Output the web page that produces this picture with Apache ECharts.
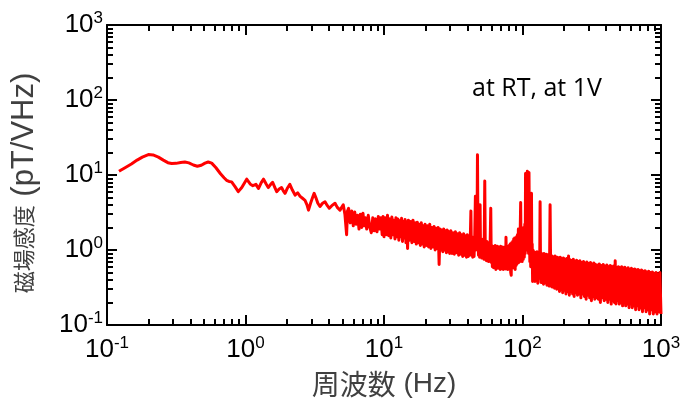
<!DOCTYPE html>
<html><head><meta charset="utf-8">
<script src="https://cdn.jsdelivr.net/npm/echarts@6/dist/echarts.min.js"></script>
<style>html,body{margin:0;padding:0;background:#fff}#c{width:688px;height:403px}</style>
</head><body><div id="c"></div>
<script>
// ---- data (frequency in Hz, sensitivity in pT/√Hz) ----
const freqLow = [0.122,0.135,0.15,0.165,0.18,0.199,0.215,0.235,0.255,0.275,0.293,0.315,0.34,0.365,0.39,0.42,0.449,0.48,0.51,0.538,0.57,0.61,0.66,0.7,0.73,0.76,0.794,0.84,0.887,0.94,1.02,1.08,1.13,1.19,1.24,1.3,1.35,1.41,1.46,1.52,1.57,1.63,1.68,1.75,1.82,1.87,1.93,2.0,2.09,2.18,2.28,2.38,2.48,2.58,2.69,2.78,2.85,2.95,3.05,3.13,3.22,3.33,3.45,3.6,3.75,3.9,4.03,4.2,4.43,4.6,4.81,4.95,5.08,5.22,5.37,5.45];
const sensLow = [11.2,12.5,14.0,15.8,17.3,18.7,18.5,17.3,15.8,14.6,14.2,14.3,14.7,14.9,14.5,13.6,13.1,13.5,14.4,14.9,14.4,12.6,10.4,9.2,8.5,8.2,8.1,7.0,6.0,6.8,8.8,7.6,7.2,7.5,6.6,7.9,8.8,7.6,6.8,7.5,8.0,6.8,6.0,6.5,6.8,6.2,5.7,6.6,7.5,6.3,5.4,5.8,5.2,4.9,4.6,4.0,3.4,4.2,5.0,5.7,5.0,4.2,3.8,4.2,4.4,3.9,3.6,3.9,4.2,3.7,3.4,3.7,4.0,3.0,1.6,3.3];

const freq5to10 = [5.55,5.7,5.85,6.0,6.15,6.3,6.45,6.6,6.75,6.9,7.05,7.2,7.35,7.5,7.7,7.9,8.1,8.3,8.5,8.7,8.9,9.1,9.3,9.5,9.7,9.85];
const sens5to10 = [3.6,2.3,3.3,2.1,3.2,2.2,2.9,1.9,3.0,2.0,3.1,2.1,2.7,1.9,2.9,2.0,1.7,2.7,1.8,2.6,1.75,2.8,1.9,2.7,1.6,2.8];

const freq10to40 = [10.0,10.2,10.4,10.6,10.8,11.0,11.2,11.4,11.6,11.8,12.0,12.2,12.4,12.6,12.8,13.0,13.2,13.4,13.6,13.8,14.0,14.2,14.4,14.6,14.8,15.0,
  15.3,15.6,15.9,16.2,16.5,16.8,17.1,17.4,17.7,18.0,18.3,18.6,18.9,19.2,19.5,19.8,
  20.2,20.6,21.0,21.4,21.8,22.2,22.6,23.0,23.4,23.8,24.2,24.6,25.0,25.4,25.8,26.2,26.6,27.0,27.4,27.8,28.2,28.6,29.0,29.4,29.8,
  30.4,31.0,31.6,32.2,32.8,33.4,34.0,34.6,35.2,35.8,36.4,37.0,37.6,38.2,38.8,39.4,40.0,40.6];
const sens10to40 = [1.5,2.7,1.6,2.9,1.55,2.6,1.45,2.75,1.6,2.5,1.4,2.7,1.5,2.6,1.35,2.45,1.5,2.65,1.3,2.4,1.45,2.55,1.25,2.35,1.05,2.5,
  1.35,2.4,1.25,2.5,1.3,2.3,1.2,2.35,1.25,2.2,1.15,2.3,1.2,2.1,1.1,2.2,
  1.15,2.1,1.1,2.2,1.05,2.0,1.1,2.05,1.0,1.95,1.05,2.0,0.64,1.9,1.0,1.85,0.95,1.9,1.0,1.8,0.92,1.85,0.95,1.75,0.9,
  1.8,0.9,1.7,0.88,1.75,0.92,1.65,0.85,1.7,0.88,1.6,0.82,1.65,0.85,1.55,0.8,1.6,0.82];

const freq40to60 = [41.0,41.5,42.0,42.4,42.8,43.2,43.7,44.2,44.7,45.2,45.7,46.1,46.5,46.9,47.3,47.7,48.1,48.6,49.0,49.4,49.8,50.3,50.8,51.3,51.8,52.3,52.8,53.4,53.9,54.4,54.9,55.4,55.9,56.4,56.9,57.4,57.9,58.4,59.0,59.5,60.0];
const sens40to60 = [1.5,0.85,1.45,3.3,0.85,1.5,0.8,1.45,0.82,1.5,5.2,1.0,4.2,1.2,18.6,1.8,0.85,1.4,0.8,4.0,0.85,1.4,0.78,1.35,0.8,1.4,0.75,8.3,0.8,1.3,0.72,1.3,0.75,1.25,0.7,1.2,0.72,1.2,3.6,0.68,1.15];

const freq60to120 = [60.6,61.2,61.8,62.4,63.0,63.6,64.2,64.8,65.4,66.0,66.6,67.2,67.8,68.4,69.0,69.6,70.2,70.8,71.4,72.0,72.7,73.4,74.1,74.8,75.5,76.0,76.6,77.3,78.0,78.7,79.4,80.1,80.8,81.5,82.2,82.9,83.6,84.3,85.0,85.7,86.4,87.1,87.8,88.5,89.2,89.9,90.6,91.3,92.0,92.7,93.4,94.1,94.8,95.5,96.2,
  97.0,97.8,98.6,99.4,100.3,101.2,102.1,103.0,103.9,104.6,105.2,106.0,106.8,107.6,108.3,109.0,109.8,110.6,111.4,112.2,113.0,113.8,114.6,115.4,116.1,116.8,117.5,118.3,119.1,120.0];
const sens60to120 = [0.6,1.12,0.58,1.1,0.62,1.15,0.55,1.08,0.6,1.12,0.57,1.05,0.6,1.1,0.55,1.12,0.58,1.08,0.56,1.1,0.55,1.05,0.6,1.1,0.56,1.48,0.6,1.08,0.55,1.12,0.58,1.15,0.55,1.2,0.5,0.46,1.25,0.6,1.3,0.58,1.4,0.6,1.45,0.55,1.35,0.62,1.5,0.65,1.6,0.7,1.9,0.68,1.6,0.7,1.7,
  4.3,0.75,1.6,0.7,1.8,0.75,2.0,0.8,2.2,0.9,10.5,1.1,2.0,1.0,11.2,11.6,2.2,0.9,10.8,1.5,0.7,1.8,0.6,1.4,5.7,0.7,1.2,0.38,1.0,0.4];

const freq120to340 = [121.5,123.0,124.5,126.0,127.5,129.0,130.5,132.0,133.2,134.0,134.8,136.2,137.6,139.0,140.4,141.8,143.2,144.6,146.0,147.4,148.8,150.2,151.6,153.0,154.4,155.8,157.0,158.2,159.4,160.8,162.4,164.0,165.6,167.2,168.8,170.4,172.0,173.6,175.2,176.8,178.4,180.0,
  182.5,185,187.5,190,192.5,195,197.5,200,203,206,209,212,215,218,221,224,227,230,233,236,239,242.5,246,249.5,253,256.5,260,264,268,272,276,280,284,288,292,296.5,301,305.5,310,314.5,319,323.5,328,332.5,337,341.5];
const sens120to340 = [0.95,0.38,0.92,0.4,0.95,0.36,0.9,0.42,0.88,4.4,0.8,0.37,0.9,0.4,0.88,0.35,0.9,0.38,0.86,0.36,0.88,0.34,0.85,0.37,0.87,0.33,0.82,4.0,0.8,0.33,0.84,0.32,0.82,0.35,0.8,0.31,0.83,0.33,0.78,0.3,0.8,0.32,
  0.78,0.28,0.8,0.3,0.76,0.27,0.78,0.29,0.75,0.26,0.77,0.28,0.83,0.25,0.74,0.28,0.72,0.26,0.75,0.24,0.71,0.27,0.73,0.25,0.7,0.26,0.72,0.23,0.68,0.26,0.7,0.24,0.67,0.22,0.69,0.25,0.66,0.23,0.68,0.21,0.65,0.24,0.67,0.22,0.64,0.23];

const freq340to1000 = [347,353,359,365,371,377,383,389,395,401,407,413,419,425,431,437,443,449,455,461,467,473,479,486,493,500,507,514,521,528,535,542,549,556,564,572,580,588,596,604,612,620,629,638,647,656,665,674,684,694,704,714,724,735,746,757,768,780,792,804,816,828,841,854,867,880,894,908,922,936,951,966,982,1000];
const sens340to1000 = [0.63,0.22,0.65,0.2,0.62,0.23,0.64,0.21,0.61,0.22,0.63,0.2,0.6,0.22,0.62,0.19,0.6,0.21,0.61,0.2,0.72,0.19,0.59,0.21,0.6,0.19,0.58,0.2,0.6,0.18,0.57,0.2,0.59,0.18,0.56,0.19,0.58,0.17,0.55,0.19,0.57,0.17,0.55,0.18,0.56,0.16,0.54,0.18,0.55,0.16,0.53,0.17,0.54,0.15,0.52,0.17,0.53,0.15,0.51,0.16,0.52,0.14,0.5,0.16,0.51,0.14,0.49,0.15,0.5,0.14,0.48,0.15,0.5,0.14];

const minorMantissas = [2,3,4,5,6,7,8,9];
const decadeExps = [-1,0,1,2];
const axisMin = 0.1, axisMax = 1000;
const logMin = -1, logMax = 3;   // log10 of axisMin / axisMax
const xTitleCJK = '周波数', xTitleLatin = ' (Hz)';
const yTitleCJK = '磁場感度', yTitleLatin = ' (pT/VHz)';
const note = 'at RT, at 1V';

// ---- build ----
const freq = [].concat(freqLow, freq5to10, freq10to40, freq40to60, freq60to120, freq120to340, freq340to1000);
const sens = [].concat(sensLow, sens5to10, sens10to40, sens40to60, sens60to120, sens120to340, sens340to1000);
const seriesData = freq.map((f, i) => [f, sens[i]]);
const minorLog = [];
decadeExps.forEach(e => minorMantissas.forEach(m => minorLog.push(e + Math.log10(m))));

const FONT = '"Liberation Sans", Arial, sans-serif';
const CJK = '"Noto Sans CJK JP", "Noto Sans", sans-serif';
const NOTE_FONT = '"Open Sans", Lato, sans-serif';
function powLabel(v){ const e = Math.round(Math.log10(v)); return '{b|10}{s|' + e + '}'; }
const rich = {
  b: {fontSize: 26, fontFamily: FONT, color: '#000', lineHeight: 30},
  s: {fontSize: 17, fontFamily: FONT, color: '#000', lineHeight: 17, verticalAlign: 'top'}
};
const xTitleRich = {
  c: {fontFamily: CJK, fontSize: 28, color: '#404040', lineHeight: 32},
  l: {fontFamily: '"Liberation Sans Narrow", "Liberation Sans", sans-serif', fontSize: 28, color: '#404040', lineHeight: 32}
};
const xTitleText = '{c|' + xTitleCJK + '}{l|' + xTitleLatin + '}';
const lineStyle = {color: '#000', width: 2};
const GRID = {left: 107, top: 25, right: 27, bottom: 75};

function majorAxis(pos, gi, extra){ return Object.assign({
  type: 'log', logBase: 10, min: axisMin, max: axisMax, position: pos, gridIndex: gi,
  splitLine: {show: false},
  axisLine: {show: true, onZero: false, lineStyle: lineStyle},
  axisTick: {show: true, inside: true, length: 10, lineStyle: lineStyle},
  axisLabel: {show: false}
}, extra || {}); }
function minorAxis(pos){ return {
  type: 'value', min: logMin, max: logMax, position: pos, gridIndex: 0,
  splitLine: {show: false},
  axisLine: {show: false, onZero: false},
  axisTick: {show: true, inside: true, length: 6, lineStyle: lineStyle, customValues: minorLog},
  axisLabel: {show: false}
}; }
function hiddenAxis(gi){ return {
  type: 'log', logBase: 10, min: axisMin, max: axisMax, gridIndex: gi,
  axisLine: {show: false, onZero: false}, axisTick: {show: false}, axisLabel: {show: false}, splitLine: {show: false}
}; }

function buildOption(v){
  const xa0 = {axisLabel: {show: true, margin: 10, formatter: powLabel, rich: rich}};
  if (v.xTitle === 'name') Object.assign(xa0, {name: xTitleText, nameLocation: 'middle', nameGap: 43, nameTextStyle: {rich: xTitleRich}});
  const ya0 = {axisLabel: {show: true, margin: 4, formatter: powLabel, rich: rich},
    name: '{c|' + yTitleCJK + '}{l|' + yTitleLatin + '}', nameLocation: 'middle', nameGap: 66, nameRotate: 90,
    nameTextStyle: {padding: [0, 16, 0, 0], rich: {
      c: {fontFamily: CJK, fontSize: 22, color: '#404040', lineHeight: 34},
      l: {fontFamily: FONT, fontSize: 31, color: '#404040', lineHeight: 34}
    }}};
  const xAxis = [majorAxis('bottom', 0, xa0), minorAxis('bottom'), majorAxis('top', 0), minorAxis('top')];
  const yAxis = [majorAxis('left', 0, ya0), minorAxis('left'), majorAxis('right', 0), minorAxis('right')];
  const grid = [Object.assign({}, GRID)];
  const series = {type: 'line', data: seriesData, showSymbol: false, symbol: 'none', smooth: false,
    lineStyle: {color: '#ff0000', width: 3, join: 'round'}, xAxisIndex: 0, yAxisIndex: 0};
  if (v.sep) {
    grid.push(Object.assign({}, GRID));
    xAxis.push(hiddenAxis(1)); yAxis.push(hiddenAxis(1));
    series.xAxisIndex = 4; series.yAxisIndex = 4;
  }
  const opt = {animation: false, backgroundColor: '#fff', grid: grid, xAxis: xAxis, yAxis: yAxis, series: [series]};
  const titles = [];
  if (v.xTitle === 'title') titles.push({text: xTitleText, left: 313, top: 369, padding: 0, textStyle: {rich: xTitleRich}});
  if (v.note === 'title') titles.push({text: note, left: 472, top: 79, padding: 0,
    textStyle: {fontFamily: NOTE_FONT, fontSize: 25, fontWeight: 'normal', color: '#000'}});
  if (titles.length) opt.title = titles;
  if (v.note === 'graphic') opt.graphic = [{type: 'text', left: 472, top: 76,
    style: {text: note, font: '25px ' + NOTE_FONT, fill: '#000'}}];
  return opt;
}

const chart = echarts.init(document.getElementById('c'));
function ticksVisible(){
  try {
    chart.getZr().flush();
    const cv = document.querySelector('#c canvas');
    const ctx = cv.getContext('2d');
    for (let x = 242; x <= 250; x++) {
      const d = ctx.getImageData(x, 31, 1, 1).data;
      if (d[3] > 128 && d[0] < 120 && d[1] < 120 && d[2] < 120) return true;
    }
    return false;
  } catch (e) { return true; }
}
const variants = [
  {note: 'graphic', xTitle: 'name', sep: false},
  {note: 'title', xTitle: 'title', sep: false},
  {note: 'graphic', xTitle: 'name', sep: true},
  {note: 'title', xTitle: 'title', sep: true}
];
let done = false;
for (let i = 0; i < variants.length && !done; i++) {
  chart.setOption(buildOption(variants[i]), true);
  if (ticksVisible()) done = true;
}
</script>
</body></html>
